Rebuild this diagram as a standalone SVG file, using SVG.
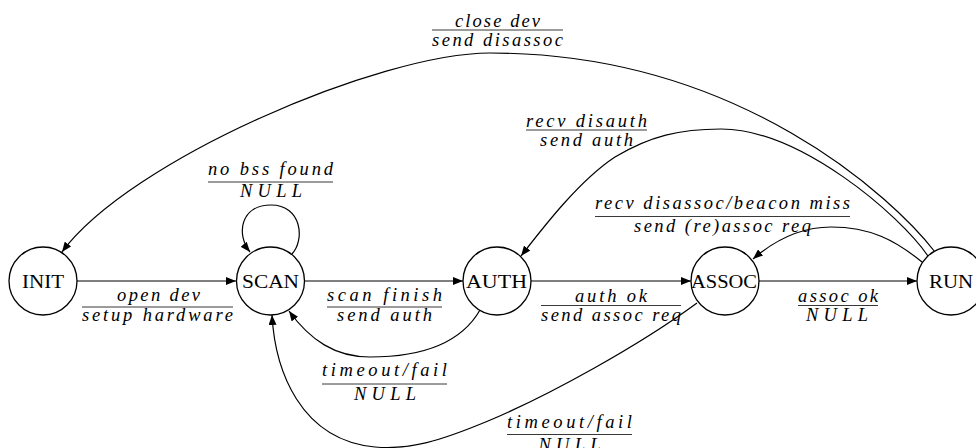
<svg xmlns="http://www.w3.org/2000/svg" width="976" height="448" viewBox="0 0 976 448">
<style>
.node circle{fill:#fff;stroke:#000;stroke-width:1.3}
.nl{font-family:"Liberation Serif",serif;font-size:18px;fill:#000}
.el{font-family:"Liberation Serif",serif;font-style:italic;font-size:18.5px;fill:#000}
.bar{stroke:#222;stroke-width:0.9}
.edge{fill:none;stroke:#000;stroke-width:1.2;marker-end:url(#ah)}
</style>
<defs>
<marker id="ah" markerUnits="userSpaceOnUse" markerWidth="10" markerHeight="8" refX="10" refY="4" orient="auto">
<path d="M0,0 L10,4 L0,8 Z" fill="#000"/>
</marker>
</defs>
<g id="connectors">
<path class="edge" d="M77,281 L236,281"/>
<path class="edge" d="M305,281 L463,281"/>
<path class="edge" d="M531,281 L691,281"/>
<path class="edge" d="M759,281 L917,281"/>
<path class="edge" d="M292,254 C305,240 302,205 271,205 C240,205 236,235 250,252"/>
<path class="edge" d="M935,252 C895,200 740,53 490,53 C380,53 130,160 62,252"/>
<path class="edge" d="M928,256 C900,215 800,129 721,129 C680,129 650,136 615,157 C580,180 545,225 521,256"/>
<path class="edge" d="M922,262 C895,240 870,227 831,227 C800,227 775,240 753,259"/>
<path class="edge" d="M480,310 C460,345 420,357 370,357 C335,357 310,340 289,311"/>
<path class="edge" d="M697,303 C640,345 550,395 488,421 C440,441 410,450 375,447 C300,440 275,370 272,315"/>
</g>
<g id="labels">
<text class="el" x="455" y="26.5" textLength="85">close dev</text>
<line class="bar" x1="432" y1="30" x2="563" y2="30"/>
<text class="el" x="432" y="45.5" textLength="131">send disassoc</text>

<text class="el" x="526" y="126.5" textLength="121">recv disauth</text>
<line class="bar" x1="526" y1="130" x2="647" y2="130"/>
<text class="el" x="540" y="145.5" textLength="93">send auth</text>

<text class="el" x="208" y="175" textLength="125">no bss found</text>
<line class="bar" x1="208" y1="182" x2="333" y2="182"/>
<text class="el" x="240" y="197" textLength="62">NULL</text>

<text class="el" x="595" y="209" textLength="255">recv disassoc/beacon miss</text>
<line class="bar" x1="595" y1="216.5" x2="850" y2="216.5"/>
<text class="el" x="634" y="232" textLength="177">send (re)assoc req</text>

<text class="el" x="117" y="301" textLength="83">open dev</text>
<line class="bar" x1="82" y1="307" x2="233" y2="307"/>
<text class="el" x="82" y="321" textLength="151">setup hardware</text>

<text class="el" x="327" y="300.5" textLength="115">scan finish</text>
<line class="bar" x1="327" y1="307" x2="442" y2="307"/>
<text class="el" x="337" y="321" textLength="95">send auth</text>

<text class="el" x="575" y="301.5" textLength="72">auth ok</text>
<line class="bar" x1="541" y1="305.5" x2="681" y2="305.5"/>
<text class="el" x="541" y="321" textLength="140">send assoc req</text>

<text class="el" x="798" y="301.5" textLength="80">assoc ok</text>
<line class="bar" x1="798" y1="305.5" x2="878" y2="305.5"/>
<text class="el" x="806" y="321" textLength="62">NULL</text>

<text class="el" x="322" y="376" textLength="125">timeout/fail</text>
<line class="bar" x1="322" y1="384" x2="447" y2="384"/>
<text class="el" x="354" y="400" textLength="62">NULL</text>

<text class="el" x="507" y="427.5" textLength="125">timeout/fail</text>
<line class="bar" x1="507" y1="434.5" x2="632" y2="434.5"/>
<text class="el" x="538.5" y="451" textLength="62">NULL</text>
</g>
<g id="INIT" class="node"><circle cx="43" cy="281" r="34"/><text class="nl" x="22" y="287.5" textLength="42" lengthAdjust="spacingAndGlyphs">INIT</text></g>
<g id="SCAN" class="node"><circle cx="270.5" cy="281" r="34"/><text class="nl" x="242" y="287.5" textLength="57" lengthAdjust="spacingAndGlyphs">SCAN</text></g>
<g id="AUTH" class="node"><circle cx="497" cy="281" r="34"/><text class="nl" x="466" y="287.5" textLength="61" lengthAdjust="spacingAndGlyphs">AUTH</text></g>
<g id="ASSOC" class="node"><circle cx="725" cy="281" r="34"/><text class="nl" x="691" y="287.5" textLength="66" lengthAdjust="spacingAndGlyphs">ASSOC</text></g>
<g id="RUN" class="node"><circle cx="951" cy="281" r="34"/><text class="nl" x="929" y="287.5" textLength="44" lengthAdjust="spacingAndGlyphs">RUN</text></g>
</svg>
